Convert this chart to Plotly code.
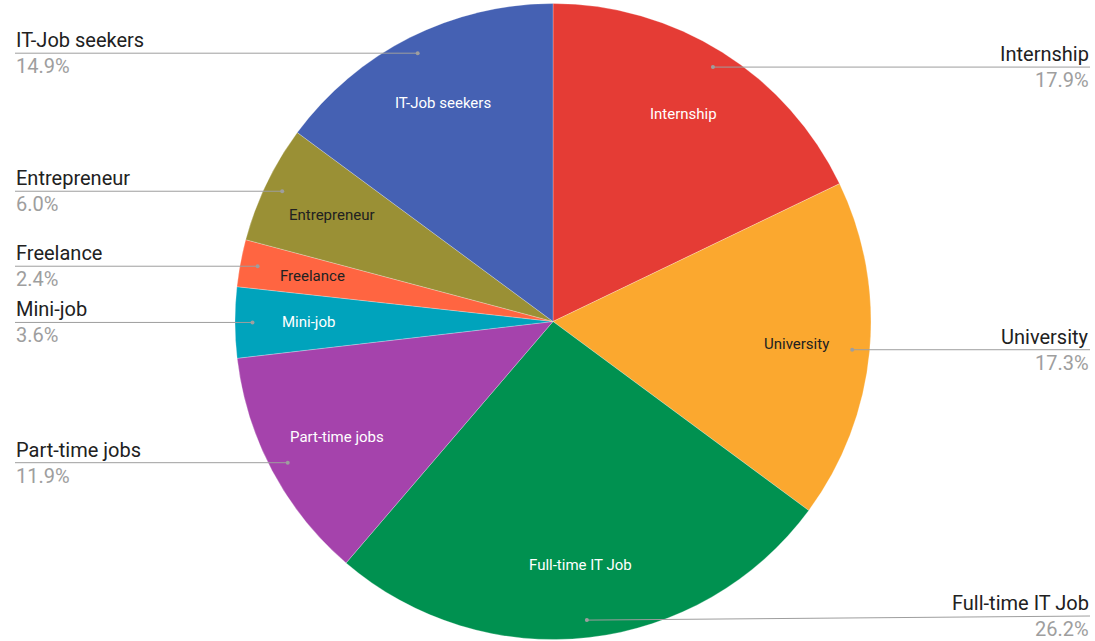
import math
import plotly.graph_objects as go

labels = ["Internship", "University", "Full-time IT Job", "Part-time jobs",
          "Mini-job", "Freelance", "Entrepreneur", "IT-Job seekers"]
values = [17.9, 17.3, 26.2, 11.9, 3.6, 2.4, 6.0, 14.9]
colors = ["#E53C35", "#FBA82F", "#009150", "#A543AC",
          "#00A3BC", "#FF6541", "#9A9035", "#4561B3"]
inside_text_colors = ["#FFFFFF", "#212121", "#FFFFFF", "#FFFFFF",
                      "#FFFFFF", "#212121", "#212121", "#FFFFFF"]

W, H = 1095, 641
CX, CY, R = 553, 321.5, 318.0

def px2paper(x, y):
    return x / W, 1 - y / H

fig = go.Figure()
fig.add_trace(go.Pie(
    labels=labels, values=values, sort=False, direction="clockwise", rotation=0,
    marker=dict(colors=colors, line=dict(color="rgba(255,255,255,0.5)", width=0.5)),
    textinfo="none", hoverinfo="label+percent", showlegend=False,
    domain=dict(x=[(CX - R) / W, (CX + R) / W], y=[1 - (CY + R) / H, 1 - (CY - R) / H]),
))

total = sum(values)
cum = 0.0
annotations = []
shapes = []
for lab, v, tc in zip(labels, values, inside_text_colors):
    mid = (cum + v / 2) / total * 2 * math.pi
    cum += v
    s, c = math.sin(mid), math.cos(mid)
    # inside label
    ix, iy = CX + 0.77 * R * s, CY - 0.77 * R * c
    px, py = px2paper(ix, iy)
    annotations.append(dict(x=px, y=py, xref="paper", yref="paper", text=lab,
                            showarrow=False, xanchor="center", yanchor="middle",
                            font=dict(family="Roboto", size=15, color=tc)))
    # leader dot and line
    dx, dy = CX + 0.945 * R * s, CY - 0.945 * R * c
    right = s >= 0
    ly = min(dy, 616)
    ex = 1090 if right else 15
    x0, y0 = px2paper(dx, dy)
    lyp = 1 - ly / H
    shapes.append(dict(type="line", xref="paper", yref="paper", x0=x0, y0=y0,
                       x1=ex / W, y1=lyp, line=dict(color="#9E9E9E", width=1)))
    shapes.append(dict(type="circle", xref="paper", yref="paper", xsizemode="pixel",
                       ysizemode="pixel", xanchor=x0, yanchor=y0, x0=-2, x1=2, y0=-2, y1=2,
                       fillcolor="#9E9E9E", line=dict(width=0)))
    annotations.append(dict(x=ex / W, y=lyp, xref="paper", yref="paper", text=lab,
                            showarrow=False, xanchor="right" if right else "left",
                            yanchor="bottom", borderpad=0,
                            font=dict(family="Roboto", size=20, color="#212121")))
    annotations.append(dict(x=ex / W, y=lyp, xref="paper", yref="paper", text=f"{v:.1f}%",
                            showarrow=False, xanchor="right" if right else "left",
                            yanchor="top", borderpad=0,
                            font=dict(family="Roboto", size=20, color="#9E9E9E")))

fig.update_layout(width=W, height=H, margin=dict(l=0, r=0, t=0, b=0),
                  paper_bgcolor="white", plot_bgcolor="white",
                  annotations=annotations, shapes=shapes)
fig.write_html("out.html", config={"displayModeBar": False},
               post_script="document.body.style.margin='0';document.body.style.overflow='hidden';")
